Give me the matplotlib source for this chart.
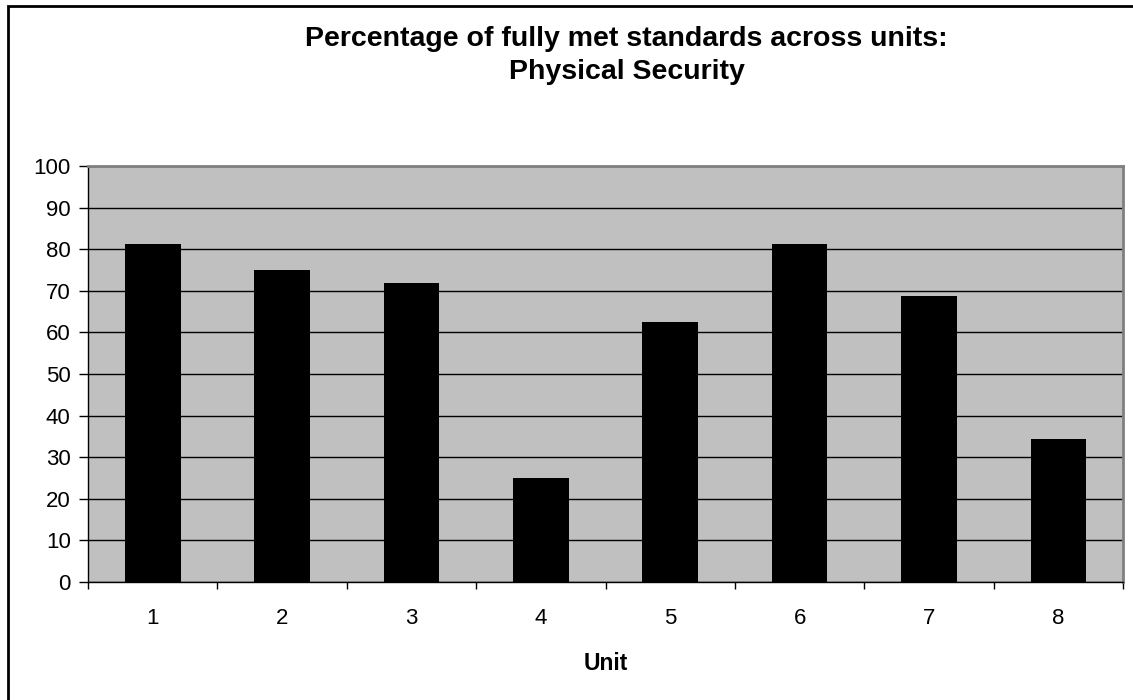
import numpy as np
import matplotlib.pyplot as plt
from matplotlib.patches import Rectangle

plt.rcParams['font.family'] = ['Liberation Sans', 'DejaVu Sans']

# share of fully met standards per unit (%)
units = ['1', '2', '3', '4', '5', '6', '7', '8']
pct_met = [81.25, 75.0, 71.875, 25.0, 62.5, 81.25, 68.75, 34.375]

fig = plt.figure(figsize=(11.33, 7.0), dpi=100)
ax = fig.add_axes([0.0777, 0.1686, 0.9135, 0.5943])

x = np.arange(len(units))
ax.bar(x, pct_met, width=0.43, color='black', zorder=3)

ax.set_facecolor('#c0c0c0')
ax.set_xlim(-0.5, len(units) - 0.5)
ax.set_ylim(0, 100)

ax.set_yticks(np.arange(0, 101, 10))
ax.yaxis.grid(True, color='black', linewidth=1.0, zorder=1)
ax.set_axisbelow(True)

# category boundaries carry the ticks, labels sit in the middle
ax.set_xticks(np.arange(-0.5, len(units)), minor=False)
ax.set_xticklabels([])
ax.set_xticks(x, minor=True)
ax.set_xticklabels(units, minor=True)
ax.tick_params(axis='x', which='major', direction='out', length=5, width=1, color='black')
ax.tick_params(axis='x', which='minor', length=0, pad=19, labelsize=16)
ax.tick_params(axis='y', direction='out', length=6.5, width=1, pad=6, labelsize=16)

for side in ['top', 'right']:
    ax.spines[side].set_color('#808080')
    ax.spines[side].set_linewidth(2)
for side in ['left', 'bottom']:
    ax.spines[side].set_color('black')
    ax.spines[side].set_linewidth(1)

ax.set_xlabel('Unit', fontsize=16.5, fontweight='bold', labelpad=16)

fig.text(0.553, 0.921, 'Percentage of fully met standards across units:\nPhysical Security',
         ha='center', va='center', fontsize=20.5, fontweight='bold', linespacing=1.38)

# outer chart frame
fig.patches.append(Rectangle((8 / 1133, -0.01), 1.2, 1 - 6 / 700 + 0.01,
                             transform=fig.transFigure, fill=False,
                             edgecolor='black', linewidth=2))

fig.savefig('out.png', dpi=100)
